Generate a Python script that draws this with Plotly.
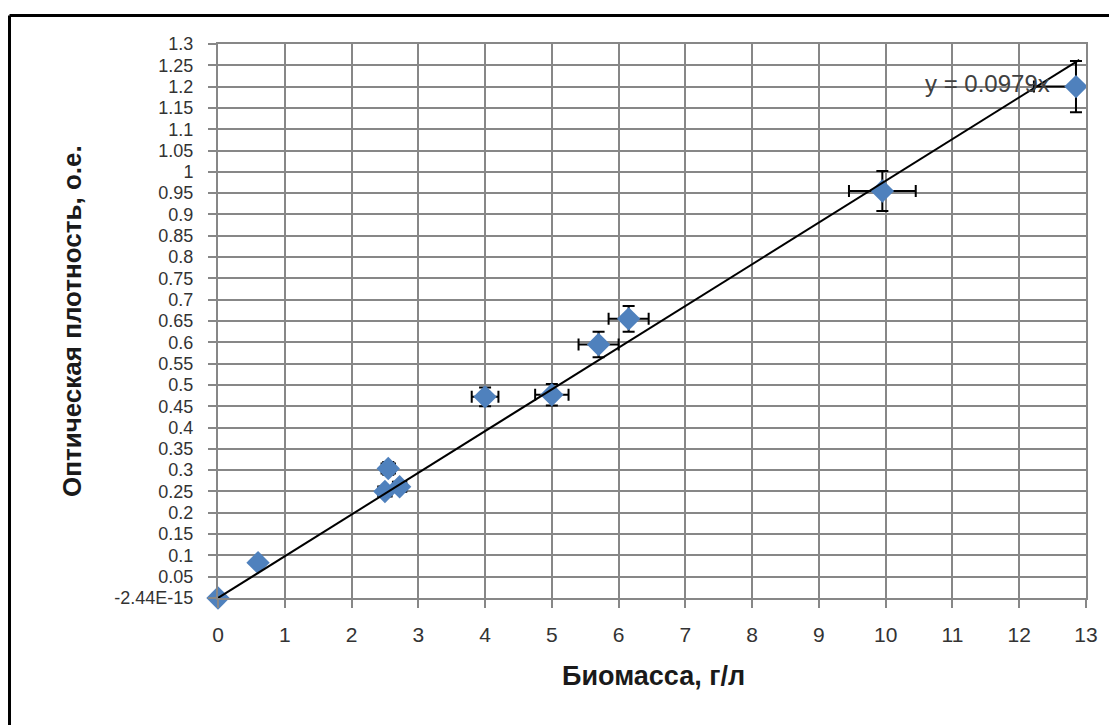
import plotly.graph_objects as go

# Data
biomass = [0.0, 0.6, 2.55, 2.5, 2.72, 4.0, 5.0, 5.7, 6.15, 9.95, 12.85]
optical_density = [0.0, 0.083, 0.304, 0.25, 0.261, 0.472, 0.477, 0.595, 0.655, 0.955, 1.2]
biomass_err = [0.0, 0.0, 0.1, 0.1, 0.1, 0.2, 0.25, 0.3, 0.3, 0.5, 0.63]
od_err = [0.0, 0.0, 0.015, 0.012, 0.012, 0.022, 0.025, 0.03, 0.03, 0.047, 0.06]
slope = 0.0979
trend_x = [0.0, 12.9]
equation_text = "y = 0.0979x"

x_ticks = list(range(0, 14))
y_tickvals = [round(i * 0.05, 2) for i in range(27)]
y_ticktext = ["-2.44E-15"] + [f"{v:g}" for v in y_tickvals[1:]]

x_title = "Биомасса, г/л"
y_title = "Оптическая плотность, о.е."

GRID = "#878787"
FONT = "Liberation Sans, Arial, sans-serif"

fig = go.Figure()
fig.add_trace(go.Scatter(
    x=biomass, y=optical_density, mode="markers",
    marker=dict(symbol="diamond", size=18, color="#4F81BD", line=dict(width=0)),
    error_x=dict(type="data", array=biomass_err, color="black", thickness=2, width=6),
    error_y=dict(type="data", array=od_err, color="black", thickness=2, width=6),
    cliponaxis=False, showlegend=False, hoverinfo="x+y",
))
fig.add_trace(go.Scatter(
    x=trend_x, y=[slope * v for v in trend_x], mode="lines",
    line=dict(color="black", width=2), showlegend=False, hoverinfo="skip",
))

fig.update_xaxes(
    range=[0, 13], tickvals=x_ticks, showgrid=True, gridcolor=GRID, gridwidth=2,
    zeroline=True, zerolinecolor=GRID, zerolinewidth=2,
    showline=True, mirror=True, linecolor=GRID, linewidth=2,
    ticks="outside", ticklen=8, tickwidth=2, tickcolor=GRID,
    tickfont=dict(family=FONT, size=21, color="#333333"), ticklabelstandoff=9,
)
fig.update_yaxes(
    range=[0, 1.3], tickvals=y_tickvals, ticktext=y_ticktext,
    showgrid=True, gridcolor=GRID, gridwidth=2,
    zeroline=True, zerolinecolor=GRID, zerolinewidth=2,
    showline=True, mirror=True, linecolor=GRID, linewidth=2,
    ticks="outside", ticklen=8, tickwidth=2, tickcolor=GRID,
    tickfont=dict(family=FONT, size=18, color="#333333"), ticklabelstandoff=11,
)

fig.add_annotation(
    x=12.49, y=1.208, xref="x", yref="y", text=equation_text, showarrow=False,
    xanchor="right", yanchor="middle",
    font=dict(family=FONT, size=24, color="#404040"),
)
fig.add_annotation(
    x=0.5012, y=-0.1408, xref="paper", yref="paper", text=f"<b>{x_title}</b>",
    showarrow=False, xanchor="center", yanchor="middle",
    font=dict(family=FONT, size=27, color="#1a1a1a"),
)
fig.add_annotation(
    x=-0.1682, y=0.5, xref="paper", yref="paper", text=f"<b>{y_title}</b>",
    showarrow=False, xanchor="center", yanchor="middle", textangle=-90,
    font=dict(family=FONT, size=26, color="#1a1a1a"),
)

# outer frame (left and top edges visible in the reference)
fig.add_shape(type="line", xref="paper", yref="paper", x0=-0.2402, x1=-0.2402, y0=-0.3, y1=1.0514,
              line=dict(color="black", width=3))
fig.add_shape(type="line", xref="paper", yref="paper", x0=-0.2402, x1=1.1, y0=1.0514, y1=1.0514,
              line=dict(color="black", width=3))

# the page body adds an 8px offset, so the figure is 8px smaller and margins shifted
fig.update_layout(
    width=1109, height=717,
    margin=dict(l=210, r=31, t=36, b=127),
    paper_bgcolor="white", plot_bgcolor="white",
    showlegend=False,
)

fig.write_html("out.html")
